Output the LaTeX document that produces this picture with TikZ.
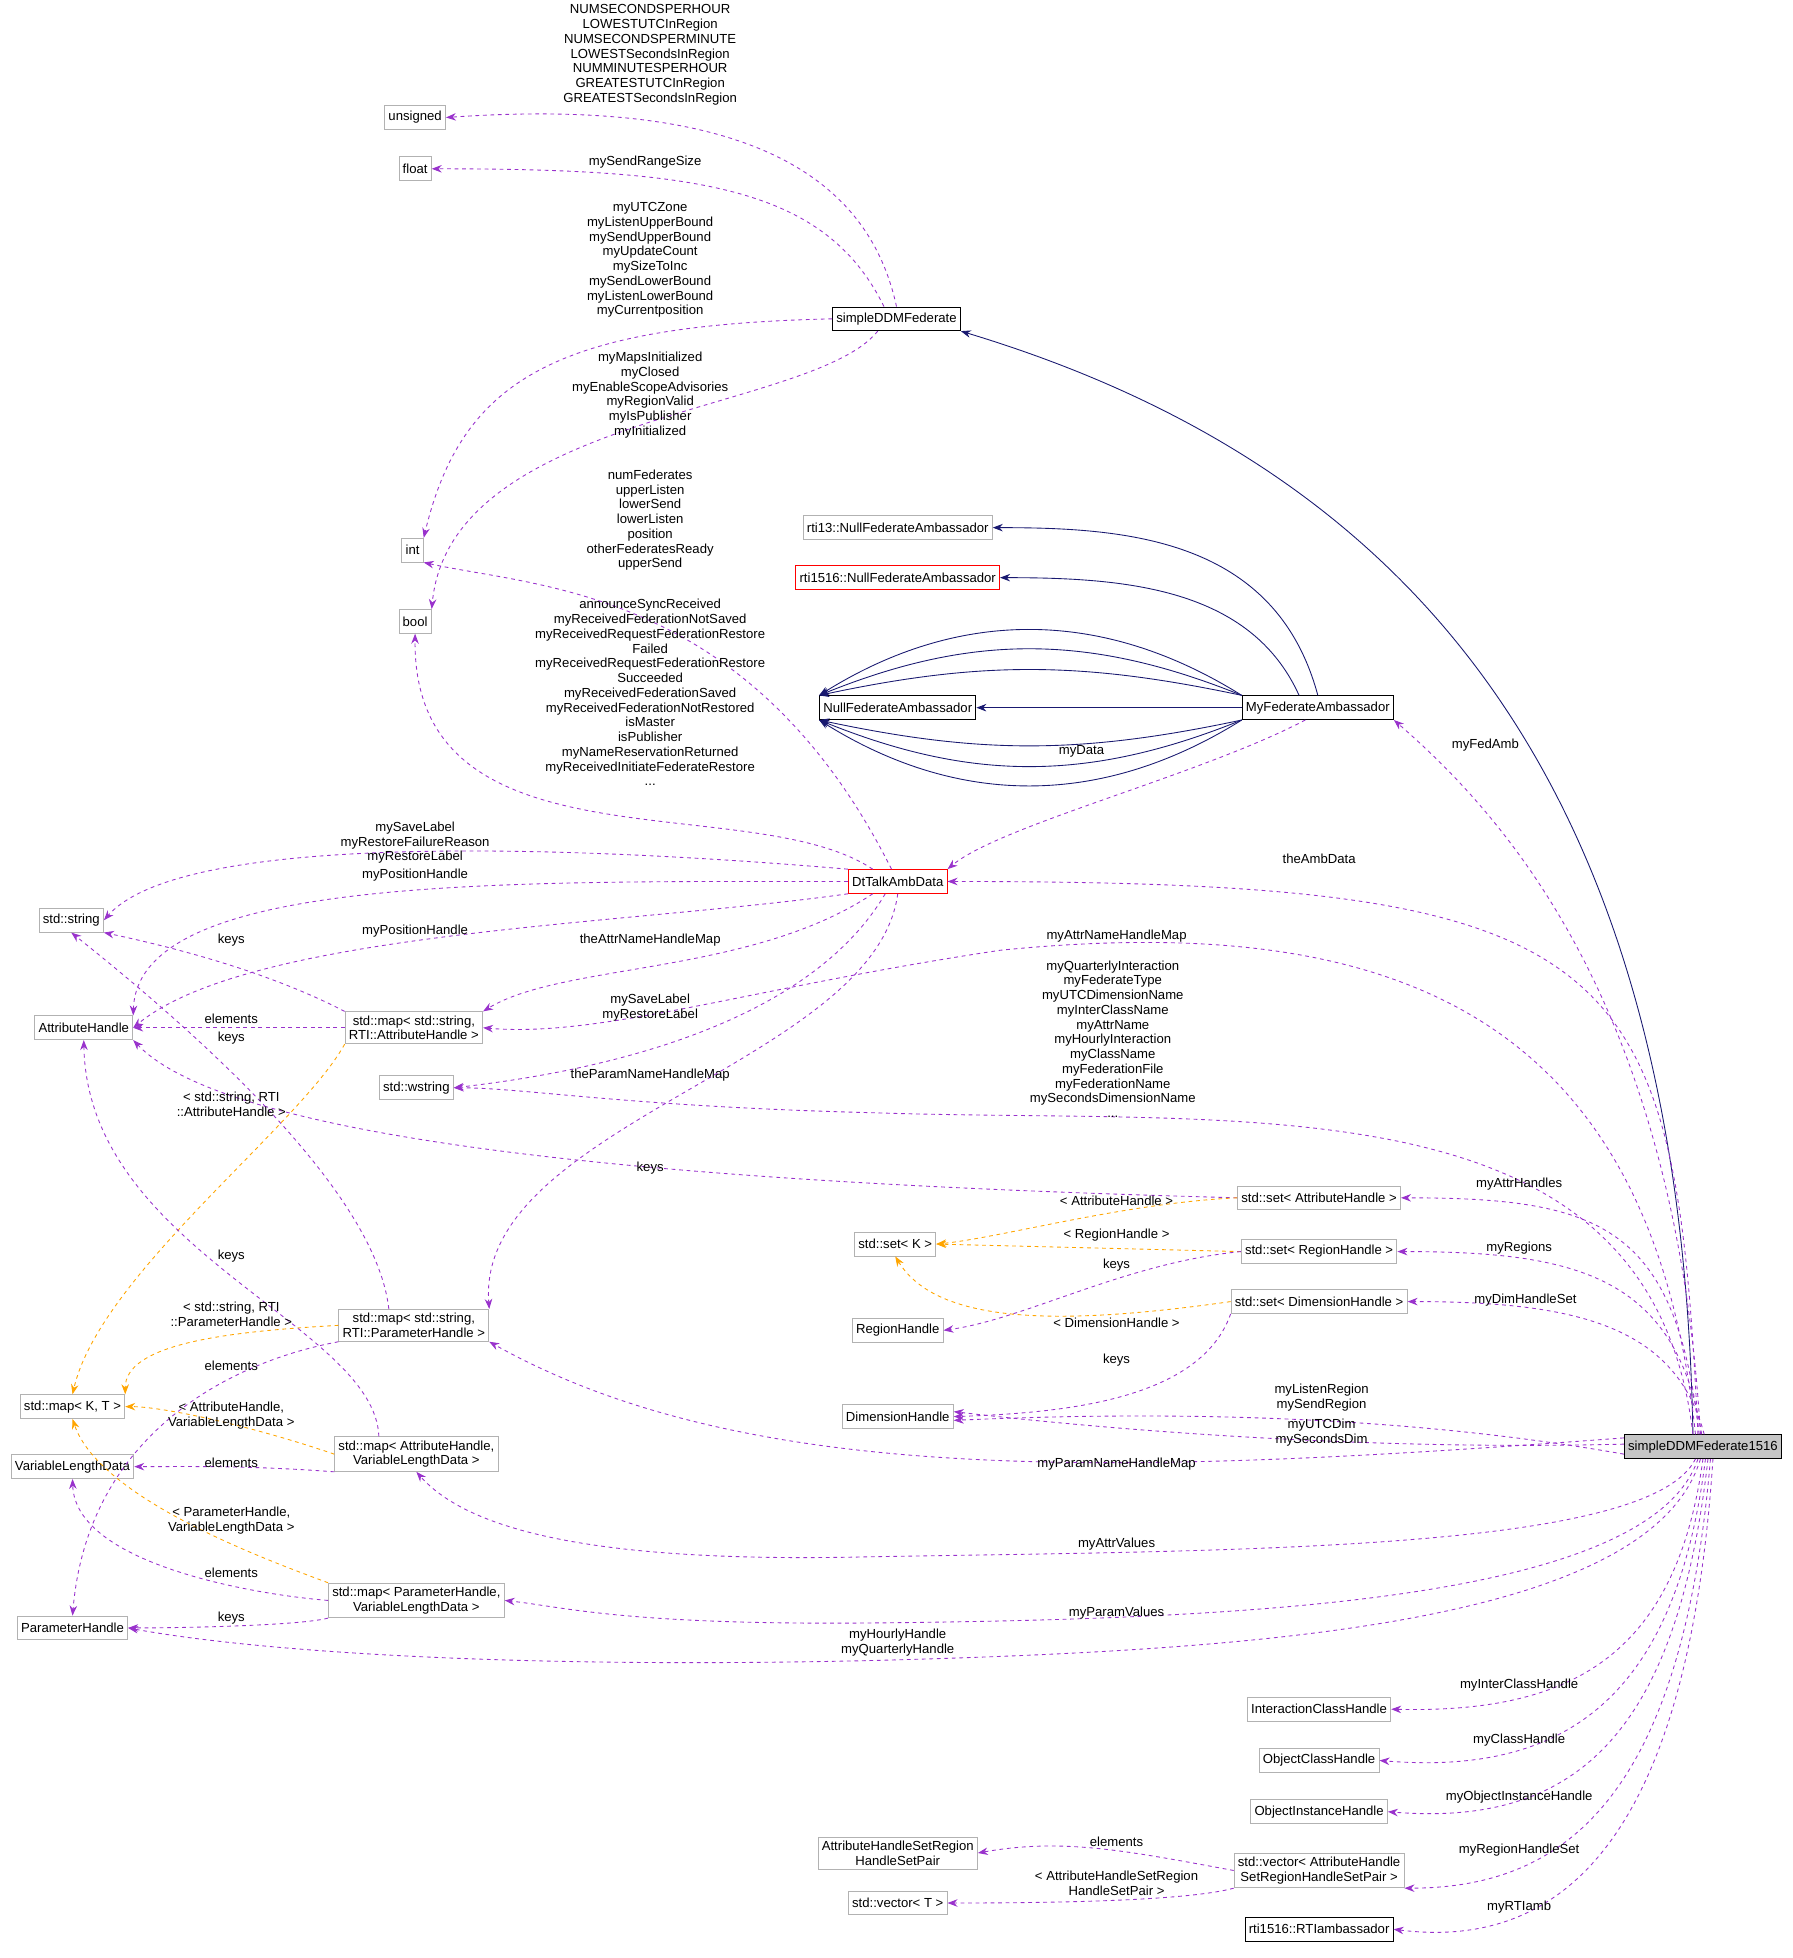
\documentclass[tikz,border=0pt]{standalone}
\usepackage{fontspec}
\setmainfont{Liberation Sans}
\usetikzlibrary{arrows.meta}
\definecolor{usecol}{RGB}{153,50,204}
\definecolor{tplcol}{RGB}{255,165,0}
\definecolor{inhcol}{RGB}{25,25,112}
\begin{document}
\begin{tikzpicture}[x=1pt, y=-1pt, line width=0.7pt,
  every node/.style = {font=\fontsize{10.5}{11.8}\selectfont, align=center},
  cls/.style = {draw=gray!60, fill=white, inner sep=3pt, minimum height=19pt},
  main/.style = {cls, draw=black},
  red/.style = {cls, draw=red},
  lbl/.style = {inner sep=0pt},
  use/.style = {dashed, draw=usecol, -{Stealth[length=8pt,width=6pt]}},
  tpl/.style = {dashed, draw=tplcol, -{Stealth[length=8pt,width=6pt]}},
  inh/.style = {draw=inhcol, -{Stealth[length=8pt,width=6pt]}}]
  \useasboundingbox (0,0) rectangle (1434,1566);
  % classes
  \node[cls] (unsigned) at (332,94) {unsigned};
  \node[cls] (float) at (332,135) {float};
  \node[cls] (int) at (330,440) {int};
  \node[cls] (bool) at (332,497) {bool};
  \node[cls] (string) at (57,736) {std::string};
  \node[cls] (attrh) at (67,822) {AttributeHandle};
  \node[cls] (wstring) at (333,870) {std::wstring};
  \node[cls] (mapkt) at (58,1125) {std::map< K, T >};
  \node[cls] (vld) at (58,1173) {VariableLengthData};
  \node[cls] (paramh) at (58,1302) {ParameterHandle};
  \node[main] (sddm) at (717,255) {simpleDDMFederate};
  \node[cls] (rti13) at (718,422) {rti13::NullFederateAmbassador};
  \node[red] (rti1516) at (718,462) {rti1516::NullFederateAmbassador};
  \node[main] (nullfa) at (718,566) {NullFederateAmbassador};
  \node[main] (myfa) at (1054,566) {MyFederateAmbassador};
  \node[red] (dtalk) at (718,705) {DtTalkAmbData};
  \node[cls] (mapsa) at (331,822) {std::map< std::string,\\RTI::AttributeHandle >};
  \node[cls] (mapsp) at (331,1060) {std::map< std::string,\\RTI::ParameterHandle >};
  \node[cls] (mapav) at (333,1163) {std::map< AttributeHandle,\\VariableLengthData >};
  \node[cls] (mappv) at (333,1280) {std::map< ParameterHandle,\\VariableLengthData >};
  \node[cls] (seta) at (1055,958) {std::set< AttributeHandle >};
  \node[cls] (setk) at (716,995) {std::set< K >};
  \node[cls] (setr) at (1055,1001) {std::set< RegionHandle >};
  \node[cls] (setd) at (1055,1041) {std::set< DimensionHandle >};
  \node[cls] (regionh) at (718,1064) {RegionHandle};
  \node[cls] (dimh) at (718,1133) {DimensionHandle};
  \node[cls, draw=black, fill=gray!45] (fed) at (1362,1157) {simpleDDMFederate1516};
  \node[cls] (ich) at (1055,1367) {InteractionClassHandle};
  \node[cls] (och) at (1055,1408) {ObjectClassHandle};
  \node[cls] (oih) at (1055,1449) {ObjectInstanceHandle};
  \node[cls] (ahsp) at (718,1482) {AttributeHandleSetRegion\\HandleSetPair};
  \node[cls] (vec) at (1055,1496) {std::vector< AttributeHandle\\SetRegionHandleSetPair >};
  \node[cls] (vect) at (718,1522) {std::vector< T >};
  \node[main] (rtiamb) at (1055,1543) {rti1516::RTIambassador};
  % inheritance
  \draw[inh] ([xshift=-8]fed.north) .. controls (1345,650) and (1150,380) .. (sddm.south east);
  \draw[inh] (myfa.north) .. controls (1020,430) and (900,422) .. (rti13.east);
  \draw[inh] ([xshift=-15]myfa.north) .. controls (1000,470) and (900,462) .. (rti1516.east);
  \draw[inh] (myfa.west) -- (nullfa.east);
  \foreach \b in {12,22,32} {
    \draw[inh] (myfa.south west) to[bend left=\b] (nullfa.south west);
    \draw[inh] (myfa.north west) to[bend right=\b] (nullfa.north west);
  }
  % usage
  \draw[use] (sddm.north) .. controls (690,120) and (560,80) .. (unsigned.east);
  \draw[use] ([xshift=-10]sddm.north) .. controls (660,150) and (560,135) .. (float.east);
  \draw[use] (sddm.west) .. controls (450,260) and (370,300) .. (int.north east);
  \draw[use] ([xshift=-15]sddm.south) .. controls (650,330) and (360,330) .. (bool.north east);
  \draw[use] ([xshift=-5]dtalk.north) .. controls (600,470) and (430,470) .. (int.south east);
  \draw[use] ([xshift=-20]dtalk.north) .. controls (600,630) and (330,700) .. (bool.south);
  \draw[use] (dtalk.north west) .. controls (500,680) and (150,660) .. (string.east);
  \draw[use] (dtalk.west) .. controls (400,705) and (110,700) .. (attrh.north east);
  \draw[use] (dtalk.south west) .. controls (500,740) and (200,745) .. (attrh.east);
  \draw[use] ([xshift=-20]dtalk.south) .. controls (600,780) and (450,770) .. (mapsa.north east);
  \draw[use] ([xshift=-10]dtalk.south) .. controls (640,830) and (450,860) .. (wstring.east);
  \draw[use] (dtalk.south) .. controls (700,850) and (380,900) .. (mapsp.north east);
  \draw[use] ([xshift=-10]myfa.south) .. controls (960,620) and (800,660) .. (dtalk.north east);
  \draw[use] ([xshift=-2]fed.north) .. controls (1340,800) and (1200,650) .. (myfa.south east);
  \draw[use] ([xshift=-4]fed.north) .. controls (1340,760) and (1300,705) .. (dtalk.east);
  \draw[use] ([xshift=-6]fed.north) .. controls (1320,800) and (1100,730) .. (800,760) .. controls (600,790) and (480,830) .. (mapsa.east);
  \draw[use] ([xshift=-8]fed.north) .. controls (1320,860) and (1000,900) .. (700,890) .. controls (500,885) and (420,870) .. (wstring.east);
  \draw[use] ([xshift=-3]fed.north) .. controls (1340,980) and (1280,958) .. (seta.east);
  \draw[use] ([xshift=-1]fed.north) .. controls (1340,1020) and (1260,1001) .. (setr.east);
  \draw[use] ([xshift=1]fed.north) .. controls (1340,1060) and (1260,1041) .. (setd.east);
  \draw[use] ([yshift=-6]fed.west) .. controls (1100,1128) and (900,1130) .. ([yshift=-3]dimh.east);
  \draw[use] ([yshift=2]fed.west) .. controls (1100,1160) and (900,1145) .. ([yshift=4]dimh.east);
  \draw[use] ([yshift=7]fed.west) .. controls (900,1180) and (600,1190) .. (mapsp.south east);
  \draw[use] ([xshift=-6]fed.south) .. controls (1320,1240) and (1000,1240) .. (700,1245) .. controls (500,1250) and (380,1230) .. (mapav.south);
  \draw[use] ([xshift=-4]fed.south) .. controls (1320,1280) and (1000,1295) .. (700,1298) .. controls (500,1300) and (450,1285) .. (mappv.east);
  \draw[use] ([xshift=-2]fed.south) .. controls (1320,1300) and (1000,1320) .. (700,1328) .. controls (400,1335) and (200,1320) .. (paramh.east);
  \draw[use] ([xshift=0]fed.south) .. controls (1340,1330) and (1250,1370) .. (ich.east);
  \draw[use] ([xshift=2]fed.south) .. controls (1340,1360) and (1250,1420) .. (och.east);
  \draw[use] ([xshift=4]fed.south) .. controls (1340,1400) and (1250,1460) .. (oih.east);
  \draw[use] ([xshift=6]fed.south) .. controls (1345,1440) and (1250,1510) .. (vec.south east);
  \draw[use] ([xshift=8]fed.south) .. controls (1350,1470) and (1250,1560) .. (rtiamb.east);
  % template and containers
  \draw[use] (mapsa.north west) .. controls (220,780) and (150,760) .. (string.south east);
  \draw[use] (mapsa.west) -- (attrh.east);
  \draw[tpl] (mapsa.south west) .. controls (240,900) and (80,1020) .. (mapkt.north);
  \draw[use] ([xshift=-20]mapsp.north) .. controls (300,950) and (150,820) .. (string.south);
  \draw[tpl] (mapsp.west) .. controls (180,1065) and (100,1075) .. (mapkt.north east);
  \draw[use] (mapsp.south west) .. controls (180,1090) and (70,1150) .. (paramh.north);
  \draw[use] ([xshift=-30]mapav.north) .. controls (300,1060) and (70,1000) .. (attrh.south);
  \draw[tpl] (mapav.west) .. controls (200,1140) and (130,1125) .. (mapkt.east);
  \draw[use] (mapav.south west) .. controls (200,1172) and (150,1173) .. (vld.east);
  \draw[use] (mappv.west) .. controls (200,1275) and (60,1250) .. (vld.south);
  \draw[tpl] (mappv.north west) .. controls (220,1250) and (80,1200) .. (mapkt.south);
  \draw[use] (mappv.south west) .. controls (240,1300) and (150,1302) .. (paramh.east);
  \draw[use] (seta.west) .. controls (700,950) and (200,930) .. (attrh.south east);
  \draw[tpl] (seta.west) .. controls (900,962) and (800,990) .. (setk.east);
  \draw[tpl] (setr.west) -- (setk.east);
  \draw[use] (setr.west) .. controls (900,1010) and (820,1055) .. (regionh.east);
  \draw[tpl] (setd.west) .. controls (850,1060) and (750,1060) .. (setk.south);
  \draw[use] (setd.south west) .. controls (960,1120) and (850,1130) .. (dimh.east);
  \draw[use] (vec.west) .. controls (900,1480) and (850,1470) .. (ahsp.east);
  \draw[use] (vec.south west) .. controls (950,1520) and (850,1522) .. (vect.east);
  % labels
  \node[lbl] (l1) at (520,44) {NUMSECONDSPERHOUR\\LOWESTUTCInRegion\\NUMSECONDSPERMINUTE\\LOWESTSecondsInRegion\\NUMMINUTESPERHOUR\\GREATESTUTCInRegion\\GREATESTSecondsInRegion};
  \node[lbl] (l2) at (516,130) {mySendRangeSize};
  \node[lbl] (l3) at (520,208) {myUTCZone\\myListenUpperBound\\mySendUpperBound\\myUpdateCount\\mySizeToInc\\mySendLowerBound\\myListenLowerBound\\myCurrentposition};
  \node[lbl] (l4) at (520,316) {myMapsInitialized\\myClosed\\myEnableScopeAdvisories\\myRegionValid\\myIsPublisher\\myInitialized};
  \node[lbl] (l5) at (520,416) {numFederates\\upperListen\\lowerSend\\lowerListen\\position\\otherFederatesReady\\upperSend};
  \node[lbl] (l6) at (520,554) {announceSyncReceived\\myReceivedFederationNotSaved\\myReceivedRequestFederationRestore\\Failed\\myReceivedRequestFederationRestore\\Succeeded\\myReceivedFederationSaved\\myReceivedFederationNotRestored\\isMaster\\isPublisher\\myNameReservationReturned\\myReceivedInitiateFederateRestore\\...};
  \node[lbl] (l7) at (332,674) {mySaveLabel\\myRestoreFailureReason\\myRestoreLabel};
  \node[lbl] (l8) at (332,700) {myPositionHandle};
  \node[lbl] (l9) at (332,745) {myPositionHandle};
  \node[lbl] (l10) at (520,752) {theAttrNameHandleMap};
  \node[lbl] (l11) at (520,806) {mySaveLabel\\myRestoreLabel};
  \node[lbl] (l12) at (520,860) {theParamNameHandleMap};
  \node[lbl] (l13) at (865,601) {myData};
  \node[lbl] (l14) at (1188,596) {myFedAmb};
  \node[lbl] (l15) at (1055,687) {theAmbData};
  \node[lbl] (l16) at (893,749) {myAttrNameHandleMap};
  \node[lbl] (l17) at (890,831) {myQuarterlyInteraction\\myFederateType\\myUTCDimensionName\\myInterClassName\\myAttrName\\myHourlyInteraction\\myClassName\\myFederationFile\\myFederationName\\mySecondsDimensionName\\...};
  \node[lbl] (l18) at (1215,947) {myAttrHandles};
  \node[lbl] (l19) at (1215,998) {myRegions};
  \node[lbl] (l20) at (1220,1040) {myDimHandleSet};
  \node[lbl] (l21) at (1057,1118) {myListenRegion\\mySendRegion};
  \node[lbl] (l22) at (1057,1146) {myUTCDim\\mySecondsDim};
  \node[lbl] (l23) at (893,1171) {myParamNameHandleMap};
  \node[lbl] (l24) at (893,1235) {myAttrValues};
  \node[lbl] (l25) at (893,1290) {myParamValues};
  \node[lbl] (l26) at (718,1314) {myHourlyHandle\\myQuarterlyHandle};
  \node[lbl] (l27) at (1215,1348) {myInterClassHandle};
  \node[lbl] (l28) at (1215,1392) {myClassHandle};
  \node[lbl] (l29) at (1215,1437) {myObjectInstanceHandle};
  \node[lbl] (l30) at (1215,1480) {myRegionHandleSet};
  \node[lbl] (l31) at (1215,1525) {myRTIamb};
  \node[lbl] (l32) at (185,752) {keys};
  \node[lbl] (l33) at (185,815) {elements};
  \node[lbl] (l34) at (185,830) {keys};
  \node[lbl] (l35) at (185,883) {< std::string, RTI\\::AttributeHandle >};
  \node[lbl] (l36) at (520,934) {keys};
  \node[lbl] (l37) at (893,960) {< AttributeHandle >};
  \node[lbl] (l38) at (893,988) {< RegionHandle >};
  \node[lbl] (l39) at (893,1012) {keys};
  \node[lbl] (l40) at (893,1058) {< DimensionHandle >};
  \node[lbl] (l41) at (893,1088) {keys};
  \node[lbl] (l42) at (185,1005) {keys};
  \node[lbl] (l43) at (185,1051) {< std::string, RTI\\::ParameterHandle >};
  \node[lbl] (l44) at (185,1092) {elements};
  \node[lbl] (l45) at (185,1132) {< AttributeHandle,\\VariableLengthData >};
  \node[lbl] (l46) at (185,1170) {elements};
  \node[lbl] (l47) at (185,1216) {< ParameterHandle,\\VariableLengthData >};
  \node[lbl] (l48) at (185,1258) {elements};
  \node[lbl] (l49) at (185,1294) {keys};
  \node[lbl] (l50) at (893,1473) {elements};
  \node[lbl] (l51) at (893,1506) {< AttributeHandleSetRegion\\HandleSetPair >};
\end{tikzpicture}
\end{document}
